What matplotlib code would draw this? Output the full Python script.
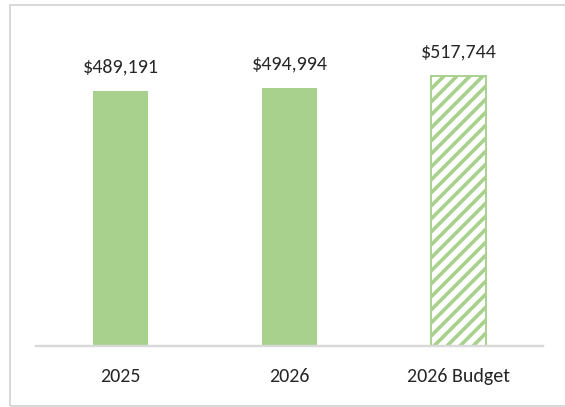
import matplotlib
matplotlib.use('Agg')
import matplotlib.pyplot as plt
from matplotlib import font_manager as fm
from matplotlib.patches import Rectangle

categories = ['2025', '2026', '2026 Budget']
values = [489191, 494994, 517744]
budget = [False, False, True]

GREEN = '#a9d18e'
GRAY = '#d9d9d9'
DPI = 78
W, H = 565, 407

# Calibri-like font if there is one, Lato otherwise
try:
    fm.findfont('Carlito', fallback_to_default=False)
    plt.rcParams['font.family'] = ['Carlito', 'DejaVu Sans']
    label_size, tick_size = 18.5, 18.5
except ValueError:
    plt.rcParams['font.family'] = ['Lato', 'DejaVu Sans']
    label_size, tick_size = 17.6, 17.6
plt.rcParams['hatch.linewidth'] = 3.4
plt.rcParams['hatch.color'] = GREEN

fig = plt.figure(figsize=(W / DPI, H / DPI), dpi=DPI)
ax = fig.add_axes([36 / W, 1 - 345.5 / H, (543 - 36) / W, (345.5 - 33.5) / H])

x = range(len(categories))
for i, (v, b) in enumerate(zip(values, budget)):
    if b:
        ax.bar(i, v, width=0.32, color='white', edgecolor=GREEN, linewidth=1.8, hatch='//')
    else:
        ax.bar(i, v, width=0.32, color=GREEN, edgecolor='none')
    ax.annotate(f'${v:,}', (i, v), xytext=(0, 17), textcoords='offset points',
                ha='center', va='baseline', fontsize=label_size, color='#262626')

ax.set_xlim(-0.5, len(categories) - 0.5)
ax.set_ylim(0, 600000)
ax.set_xticks(list(x))
ax.set_xticklabels(categories, fontsize=tick_size, color='#262626')
ax.tick_params(axis='x', length=0, pad=20.5)
ax.set_yticks([])
for s in ['top', 'right', 'left']:
    ax.spines[s].set_visible(False)
ax.spines['bottom'].set_color(GRAY)
ax.spines['bottom'].set_linewidth(2.2)

# outer chart border (right side runs off the image)
fig.add_artist(Rectangle((9.5 / W, 1 - 406 / H), 1.2, (406 - 4.5) / H,
                         transform=fig.transFigure, fill=False,
                         edgecolor=GRAY, linewidth=1.8))

fig.savefig('out.png', dpi=DPI)
